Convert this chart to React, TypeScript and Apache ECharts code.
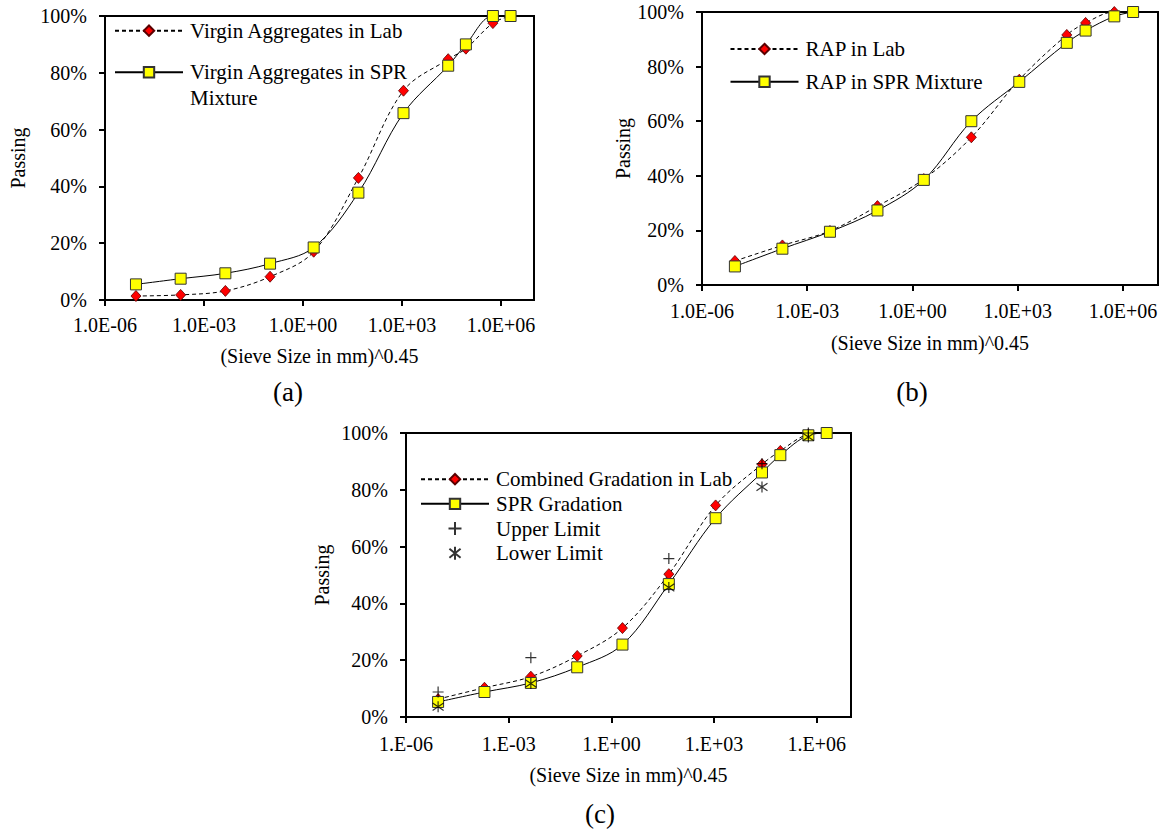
import React, { useEffect, useRef } from 'react';
import * as echarts from 'echarts';

// x positions of the sieves on the log axis, as plotted
const sieveX = [8.67e-6, 1.96e-4, 4.44e-3, 0.1004, 2.106, 47.7, 1110, 2.51e4, 8.63e4, 5.68e5, 1.95e6];

// (a) Virgin aggregates
const aLab = [1.4, 1.8, 3.2, 8.2, 17, 43, 73.7, 84.8, 88.5, 97.5, 100];
const aSpr = [5.5, 7.5, 9.4, 12.8, 18.5, 37.8, 65.8, 82.5, 90, 100, 100];

// (b) RAP
const bLab = [8.8, 14.5, 19.8, 28.9, 38.8, 54.1, 75.2, 91.6, 96, 100, 100];
const bSpr = [6.8, 13.3, 19.5, 27.3, 38.5, 60, 74.4, 88.7, 93.2, 98.4, 100];

// (c) Combined
const cLab = [6.3, 10.3, 14.2, 21.5, 31.3, 50.3, 74.5, 89, 93.7, 99.5, 100];
const cSpr = [5.3, 8.8, 12, 17.5, 25.5, 46.8, 70, 86.1, 92.2, 99.2, 100];
const limitX = [8.67e-6, 4.44e-3, 47.7, 2.51e4, 5.68e5];
const cUpper = [8.8, 20.9, 55.8, 89.2, 100];
const cLower = [3.6, 11.8, 45.6, 81, 98.6];

const tickValues = [1e-6, 1e-3, 1, 1e3, 1e6];
const yTicks = [0, 20, 40, 60, 80, 100];

const FONT = "'Liberation Serif', 'Times New Roman', Times, serif";

const zip = (xs: number[], ys: number[]) => xs.map((x, i) => [x, ys[i]]);

function fmtExp(v: number, short: boolean) {
  const e = Math.round(Math.log10(v));
  const s = (e < 0 ? '-' : '+') + String(Math.abs(e)).padStart(2, '0');
  return (short ? '1.E' : '1.0E') + s;
}

function xAxisFor(gridIndex: number, short: boolean, nameGap: number, margin: number) {
  return {
    type: 'log',
    logBase: 10,
    gridIndex,
    min: 1e-6,
    max: 1e7,
    name: '(Sieve Size in mm)^0.45',
    nameLocation: 'middle',
    nameGap,
    nameTextStyle: { fontFamily: FONT, fontSize: 20, color: '#000' },
    axisLine: { show: true, onZero: false, lineStyle: { color: '#000', width: 2 } },
    axisTick: { show: true, inside: false, length: 6, customValues: tickValues, lineStyle: { color: '#000', width: 2 } },
    axisLabel: {
      customValues: tickValues,
      formatter: (v: number) => fmtExp(v, short),
      margin,
      fontFamily: FONT,
      fontSize: 20,
      color: '#000',
    },
    splitLine: { show: false },
    minorTick: { show: false },
    minorSplitLine: { show: false },
  };
}

function yAxisFor(gridIndex: number, nameGap: number) {
  return {
    type: 'value',
    gridIndex,
    min: yTicks[0],
    max: yTicks[yTicks.length - 1],
    interval: 20,
    name: 'Passing',
    nameLocation: 'middle',
    nameGap,
    nameTextStyle: { fontFamily: FONT, fontSize: 20, color: '#000' },
    axisLine: { show: true, onZero: false, lineStyle: { color: '#000', width: 2 } },
    axisTick: { show: true, inside: false, length: 6, lineStyle: { color: '#000', width: 2 } },
    axisLabel: { formatter: '{value}%', margin: 18, fontFamily: FONT, fontSize: 20, color: '#000' },
    splitLine: { show: false },
  };
}

function labSeries(name: string, idx: number, ys: number[]) {
  return {
    type: 'line',
    name,
    xAxisIndex: idx,
    yAxisIndex: idx,
    data: zip(sieveX, ys),
    symbol: 'diamond',
    symbolSize: [10, 11],
    smooth: 0.35,
    lineStyle: { color: '#000', width: 1, type: [4, 3] },
    itemStyle: { color: '#FF0000', borderColor: '#5a0000', borderWidth: 0.8 },
    emphasis: { disabled: true },
  };
}

function sprSeries(name: string, idx: number, ys: number[]) {
  return {
    type: 'line',
    name,
    xAxisIndex: idx,
    yAxisIndex: idx,
    data: zip(sieveX, ys),
    symbol: 'rect',
    symbolSize: 11,
    smooth: 0.35,
    lineStyle: { color: '#000', width: 1, type: 'solid' },
    itemStyle: { color: '#FFFF00', borderColor: '#333', borderWidth: 1 },
    emphasis: { disabled: true },
  };
}

const legendText = (lineHeight: number) => ({
  fontFamily: FONT,
  fontSize: 21,
  color: '#000',
  lineHeight,
  padding: [0, 0, 0, 2],
});

export default function App() {
  const ref = useRef<HTMLDivElement>(null);

  useEffect(() => {
    document.body.style.margin = '0';
    if (!ref.current) return;
    const chart = echarts.init(ref.current, undefined, { renderer: 'svg' });

    const option: any = {
      animation: false,
      backgroundColor: '#fff',
      grid: [
        { left: 105, top: 16, width: 429, height: 284, show: true, borderColor: '#000', borderWidth: 2, backgroundColor: 'transparent' },
        { left: 702, top: 12, width: 456, height: 273, show: true, borderColor: '#000', borderWidth: 2, backgroundColor: 'transparent' },
        { left: 406, top: 433, width: 445, height: 284, show: true, borderColor: '#000', borderWidth: 2, backgroundColor: 'transparent' },
      ],
      xAxis: [xAxisFor(0, false, 46, 15), xAxisFor(1, false, 48, 16), xAxisFor(2, true, 48, 17)],
      yAxis: [yAxisFor(0, 77), yAxisFor(1, 61), yAxisFor(2, 74)],
      legend: [
        {
          left: 114, top: 17.7, orient: 'vertical', padding: 0, itemWidth: 68, itemHeight: 13,
          selectedMode: false, data: ['Virgin Aggregates in Lab'], textStyle: legendText(26),
        },
        {
          left: 114, top: 33.3, orient: 'vertical', padding: 0, itemWidth: 68, itemHeight: 13,
          selectedMode: false, data: ['Virgin Aggregates in SPR Mixture'],
          formatter: () => ' \nVirgin Aggregates in SPR\nMixture',
          textStyle: legendText(26),
        },
        {
          left: 729.5, top: 36, orient: 'vertical', padding: 0, itemWidth: 68, itemHeight: 13, itemGap: 6.7,
          selectedMode: false, data: ['RAP in Lab', 'RAP in SPR Mixture'], textStyle: legendText(26),
        },
        {
          left: 420, top: 466.8, orient: 'vertical', padding: 0, itemWidth: 68, itemHeight: 13, itemGap: 0,
          selectedMode: false, data: ['Combined Gradation in Lab', 'SPR Gradation', 'Upper Limit', 'Lower Limit'],
          textStyle: legendText(24.7),
        },
      ],
      series: [
        labSeries('Virgin Aggregates in Lab', 0, aLab),
        sprSeries('Virgin Aggregates in SPR Mixture', 0, aSpr),
        labSeries('RAP in Lab', 1, bLab),
        sprSeries('RAP in SPR Mixture', 1, bSpr),
        labSeries('Combined Gradation in Lab', 2, cLab),
        sprSeries('SPR Gradation', 2, cSpr),
        {
          type: 'scatter',
          name: 'Upper Limit',
          xAxisIndex: 2,
          yAxisIndex: 2,
          data: zip(limitX, cUpper),
          symbol: 'path://M5,0 L5,10 M0,5 L10,5',
          symbolSize: 11,
          itemStyle: { color: 'transparent', borderColor: '#000', borderWidth: 1.2 },
          emphasis: { disabled: true },
          z: 3,
        },
        {
          type: 'scatter',
          name: 'Lower Limit',
          xAxisIndex: 2,
          yAxisIndex: 2,
          data: zip(limitX, cLower),
          symbol: 'path://M5,0 L5,10 M0.7,1.6 L9.3,8.4 M0.7,8.4 L9.3,1.6',
          symbolSize: 11,
          itemStyle: { color: 'transparent', borderColor: '#000', borderWidth: 1.2 },
          emphasis: { disabled: true },
          z: 3,
        },
      ],
      graphic: [
        { type: 'text', x: 288, y: 392, style: { text: '(a)', fontFamily: FONT, fontSize: 27, fill: '#000', align: 'center', verticalAlign: 'middle' } },
        { type: 'text', x: 912, y: 392, style: { text: '(b)', fontFamily: FONT, fontSize: 27, fill: '#000', align: 'center', verticalAlign: 'middle' } },
        { type: 'text', x: 600, y: 814, style: { text: '(c)', fontFamily: FONT, fontSize: 27, fill: '#000', align: 'center', verticalAlign: 'middle' } },
      ],
    };

    chart.setOption(option);
    return () => chart.dispose();
  }, []);

  return <div ref={ref} style={{ width: 1165, height: 833 }} />;
}
